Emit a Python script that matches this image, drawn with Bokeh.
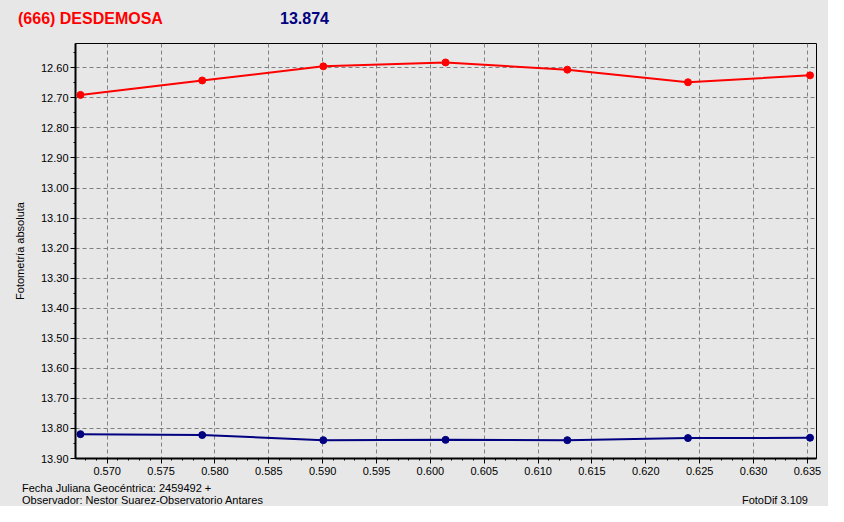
from bokeh.plotting import figure
from bokeh.models import Range1d, FixedTicker, NumeralTickFormatter, Div
from bokeh.layouts import column
from bokeh.embed import file_html
from bokeh.resources import INLINE

# ---- data ----
jd = [0.56752, 0.57882, 0.59006, 0.60141, 0.61271, 0.62391, 0.63524]
target_mag = [12.690, 12.642, 12.595, 12.582, 12.606, 12.648, 12.625]
comp_mag = [13.819, 13.822, 13.839, 13.838, 13.839, 13.832, 13.831]
x_ticks = [0.570, 0.575, 0.580, 0.585, 0.590, 0.595, 0.600, 0.605,
           0.610, 0.615, 0.620, 0.625, 0.630, 0.635]
y_ticks = [12.60, 12.70, 12.80, 12.90, 13.00, 13.10, 13.20, 13.30,
           13.40, 13.50, 13.60, 13.70, 13.80, 13.90]
x_minor = [round(0.567 + i * 0.001, 3) for i in range(70)]
y_minor = [round(12.55 + i * 0.05, 2) for i in range(28)]

title_text = "(666) DESDEMOSA"
value_text = "13.874"
ylabel = "Fotometría absoluta"
foot1 = "Fecha Juliana Geocéntrica: 2459492 +"
foot2 = "Observador: Nestor Suarez-Observatorio Antares"
foot3 = "FotoDif 3.109"

BG = "#E7E7E7"
FONT = "Liberation Sans"
W = 828

p = figure(width=W, height=444, output_backend="svg", toolbar_location=None,
           x_range=Range1d(0.56706, 0.63584), y_range=Range1d(13.90, 12.519),
           min_border_left=75, min_border_right=12, min_border_top=7,
           min_border_bottom=22)
p.background_fill_color = BG
p.border_fill_color = BG
p.outline_line_color = "black"
p.outline_line_width = 1

for ax in (p.xaxis[0], p.yaxis[0]):
    ax.axis_line_color = "black"
    ax.axis_line_width = 2
    ax.major_tick_line_color = "black"
    ax.minor_tick_line_color = "black"
    ax.major_tick_in = 0
    ax.major_tick_out = 5
    ax.minor_tick_in = 0
    ax.minor_tick_out = 2
    ax.major_label_text_font = FONT
    ax.major_label_text_font_size = "11px"
    ax.major_label_text_color = "black"
    ax.major_label_standoff = 2

p.xaxis[0].ticker = FixedTicker(ticks=x_ticks, minor_ticks=x_minor)
p.xaxis[0].formatter = NumeralTickFormatter(format="0.000")
p.xaxis[0].major_label_standoff = 3
p.yaxis[0].ticker = FixedTicker(ticks=y_ticks, minor_ticks=y_minor)
p.yaxis[0].formatter = NumeralTickFormatter(format="0.00")

p.yaxis[0].axis_label = ylabel
p.yaxis[0].axis_label_text_font = FONT
p.yaxis[0].axis_label_text_font_size = "11px"
p.yaxis[0].axis_label_text_font_style = "normal"
p.yaxis[0].axis_label_text_color = "black"
p.yaxis[0].axis_label_standoff = 12

for g in (p.xgrid[0], p.ygrid[0]):
    g.grid_line_color = "#808080"
    g.grid_line_dash = "4 3"
    g.grid_line_width = 1

p.line(jd, target_mag, line_color="#FF0000", line_width=2)
p.scatter(jd, target_mag, marker="circle", size=7, fill_color="#FF0000",
          line_color="#FF0000")
p.line(jd, comp_mag, line_color="#000080", line_width=2)
p.scatter(jd, comp_mag, marker="circle", size=7, fill_color="#000080",
          line_color="#000080")

span = ("position:absolute;white-space:nowrap;font-family:'Liberation Sans';"
        "line-height:13px;")
header = Div(width=W, height=36, styles={"background-color": BG, "margin": "0",
                                         "padding": "0"},
             text=(f'<div style="position:relative;width:{W}px;height:36px;">'
                   f'<span style="{span}left:18px;top:10px;color:#FF0000;'
                   f'font-weight:bold;font-size:16px;line-height:18px;">{title_text}</span>'
                   f'<span style="{span}left:280px;top:10px;color:#000080;'
                   f'font-weight:bold;font-size:16px;line-height:18px;">{value_text}</span>'
                   '</div>'))
footer = Div(width=W, height=26, styles={"background-color": BG, "margin": "0",
                                         "padding": "0"},
             text=(f'<div style="position:relative;width:{W}px;height:26px;">'
                   f'<span style="{span}left:22px;top:2px;font-size:11px;color:black;">{foot1}</span>'
                   f'<span style="{span}left:22px;top:14px;font-size:11px;color:black;">{foot2}</span>'
                   f'<span style="{span}right:20px;top:14px;font-size:11px;color:black;">{foot3}</span>'
                   '</div>'))

layout = column(header, p, footer, spacing=0,
                styles={"background-color": BG})
open("out.html", "w").write(file_html(layout, INLINE))
